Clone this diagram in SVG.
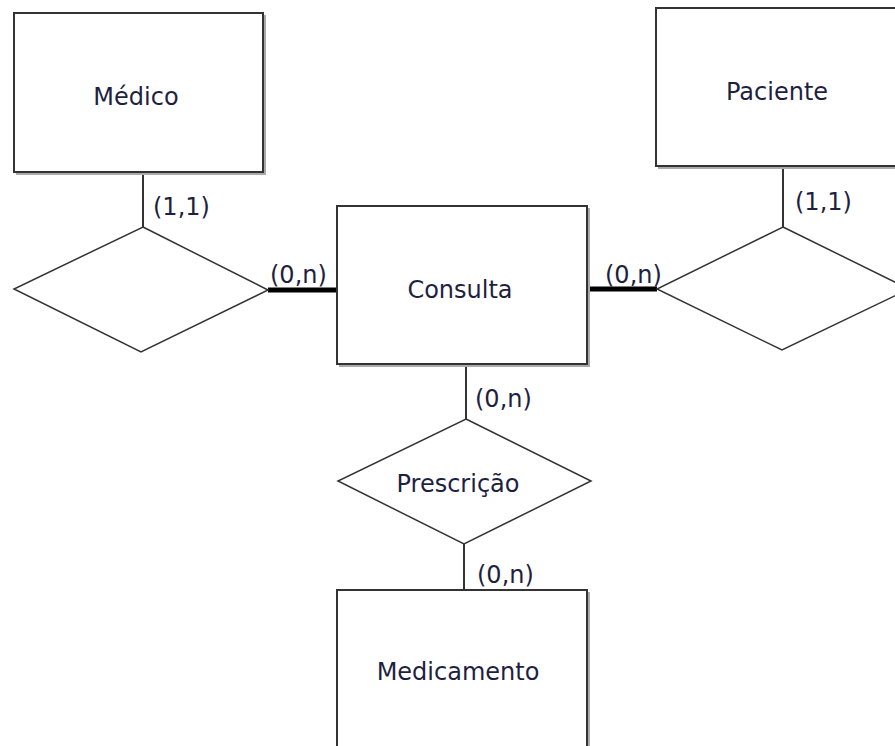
<svg xmlns="http://www.w3.org/2000/svg" width="895" height="746" viewBox="0 0 895 746">
<defs>
<style>
.ent{fill:#fff;stroke:#333;stroke-width:2}
.shadow{fill:none;stroke:#aaa;stroke-width:2}
.rel{fill:#fff;stroke:#333;stroke-width:1.5}
.thin{stroke:#333;stroke-width:2;fill:none}
.thick{stroke:#000;stroke-width:5;fill:none}
.lbl{font-family:"DejaVu Sans",sans-serif;font-size:24px;fill:#1f1f3f}
.mid{text-anchor:middle}
</style>
</defs>
<rect width="895" height="746" fill="#fff"/>
<g id="connectors">
<line class="thin" x1="143" y1="172" x2="143" y2="227"/>
<line class="thin" x1="783" y1="166" x2="783" y2="227"/>
<line class="thick" x1="268" y1="290" x2="337" y2="290"/>
<line class="thick" x1="587" y1="289" x2="657" y2="289"/>
<line class="thin" x1="466" y1="364" x2="466" y2="419"/>
<line class="thin" x1="464" y1="544" x2="464" y2="590"/>
<text class="lbl" x="153" y="215">(1,1)</text>
<text class="lbl" x="795" y="210">(1,1)</text>
<text class="lbl" x="270" y="283">(0,n)</text>
<text class="lbl" x="605" y="283">(0,n)</text>
<text class="lbl" x="475" y="407">(0,n)</text>
<text class="lbl" x="477" y="583">(0,n)</text>
</g>
<g id="medico">
<polyline class="shadow" points="265,15 265,174 16,174"/>
<rect class="ent" x="14" y="13" width="249" height="159"/>
<text class="lbl mid" x="136" y="105">Médico</text>
</g>
<g id="paciente">
<polyline class="shadow" points="658,168 900,168"/>
<rect class="ent" x="656" y="8" width="250" height="158"/>
<text class="lbl mid" x="777" y="100">Paciente</text>
</g>
<g id="consulta">
<polyline class="shadow" points="589,208 589,366 339,366"/>
<rect class="ent" x="337" y="206" width="250" height="158"/>
<text class="lbl mid" x="460" y="298">Consulta</text>
</g>
<g id="medicamento">
<polyline class="shadow" points="589,592 589,750"/>
<rect class="ent" x="337" y="590" width="250" height="170"/>
<text class="lbl mid" x="458" y="680">Medicamento</text>
</g>
<g id="rel-medico-consulta">
<polygon class="rel" points="143,227 268,290 141,352 14,289"/>
</g>
<g id="rel-paciente-consulta">
<polygon class="rel" points="783,227 909,289 782,350 657,289"/>
</g>
<g id="prescricao">
<polygon class="rel" points="466,419 591,481 464,544 338,481"/>
<text class="lbl mid" x="458" y="492">Prescrição</text>
</g>
</svg>
